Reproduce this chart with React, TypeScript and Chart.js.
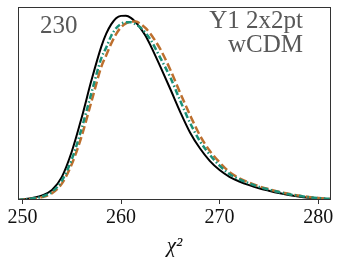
import React, { useEffect, useRef } from "react";
import { Chart, registerables } from "chart.js";

Chart.register(...registerables);

const chi2Grid = [
  249.5, 250, 250.5, 251, 252, 253, 254, 255, 256, 257, 258,
  258.5, 259, 259.5, 260, 260.5, 261, 261.5, 262, 262.5, 263,
  264, 265, 266, 267, 268, 269, 270, 271, 272, 273, 274, 275, 276, 277, 278, 279, 280, 281,
  281.5,
];

const blackSolid = [
  0.001, 0.003, 0.006, 0.011, 0.024, 0.052, 0.12, 0.25, 0.425, 0.62, 0.795,
  0.862, 0.91, 0.942, 0.954, 0.955, 0.944, 0.92, 0.888, 0.85, 0.8,
  0.69, 0.575, 0.457, 0.35, 0.268, 0.203, 0.155, 0.12, 0.096, 0.077, 0.061, 0.048, 0.036, 0.026, 0.018, 0.012, 0.008, 0.005,
  0.004,
];

const orangeDashed = [
  0.0, 0.001, 0.003, 0.006, 0.015, 0.035, 0.085, 0.185, 0.33, 0.51, 0.69,
  0.75, 0.81, 0.86, 0.895, 0.915, 0.925, 0.925, 0.912, 0.89, 0.86,
  0.78, 0.675, 0.555, 0.44, 0.335, 0.255, 0.195, 0.145, 0.113, 0.09, 0.071, 0.056, 0.043, 0.032, 0.023, 0.016, 0.011, 0.007,
  0.006,
];

const tealDashDot = [
  0.0, 0.002, 0.004, 0.008, 0.018, 0.042, 0.1, 0.21, 0.37, 0.555, 0.735,
  0.79, 0.85, 0.89, 0.912, 0.921, 0.921, 0.91, 0.893, 0.865, 0.83,
  0.735, 0.635, 0.515, 0.4, 0.305, 0.235, 0.178, 0.135, 0.107, 0.086, 0.068, 0.054, 0.041, 0.03, 0.022, 0.015, 0.01, 0.006,
  0.005,
];

const xTicks = [250, 260, 270, 280];
const labelLeft = "230";
const labelRight = ["Y1 2x2pt", "wCDM"];
const xTitle = "χ²";

const SERIF = '"Liberation Serif", "Times New Roman", serif';

function pts(ys: number[]) {
  return chi2Grid.map((x, i) => ({ x, y: ys[i] }));
}

const framePlugin = {
  id: "frameAndText",
  afterDraw(chart: any) {
    const { ctx, chartArea } = chart;
    ctx.save();
    ctx.strokeStyle = "#333333";
    ctx.lineWidth = 1;
    ctx.strokeRect(
      Math.round(chartArea.left) + 0.5,
      Math.round(chartArea.top) + 0.5,
      Math.round(chartArea.right - chartArea.left) - 1,
      Math.round(chartArea.bottom - chartArea.top) - 1
    );
    ctx.fillStyle = "#585858";
    ctx.textBaseline = "alphabetic";
    ctx.textAlign = "left";
    ctx.font = `25px ${SERIF}`;
    ctx.fillText(labelLeft, 40, 32.5);
    ctx.textAlign = "right";
    ctx.font = `25px ${SERIF}`;
    ctx.fillText(labelRight[0], 303, 28);
    ctx.fillText(labelRight[1], 303, 52);
    ctx.restore();
  },
};

export default function App() {
  const canvasRef = useRef<HTMLCanvasElement | null>(null);

  useEffect(() => {
    if (!canvasRef.current) return;
    const chart = new Chart(canvasRef.current, {
      type: "line",
      data: {
        datasets: [
          {
            data: pts(tealDashDot),
            borderColor: "#1b9078",
            borderWidth: 2.5,
            borderDash: [6, 2.5, 1.5, 2.5],
            pointRadius: 0,
            cubicInterpolationMode: "monotone",
            fill: false,
          },
          {
            data: pts(orangeDashed),
            borderColor: "#bd6f2e",
            borderWidth: 2.5,
            borderDash: [8, 3.5],
            pointRadius: 0,
            cubicInterpolationMode: "monotone",
            fill: false,
          },
          {
            data: pts(blackSolid),
            borderColor: "#000000",
            borderWidth: 2,
            pointRadius: 0,
            cubicInterpolationMode: "monotone",
            fill: false,
          },
        ],
      },
      options: {
        animation: false,
        responsive: true,
        maintainAspectRatio: false,
        layout: { padding: { left: 18, right: 10, top: 7, bottom: 0 } },
        plugins: {
          legend: { display: false },
          tooltip: { enabled: false },
        },
        scales: {
          x: {
            type: "linear",
            min: 249.55,
            max: 281.3,
            afterBuildTicks: (scale: any) => {
              scale.ticks = xTicks.map((v) => ({ value: v }));
            },
            afterFit: (scale: any) => {
              scale.height = 63;
            },
            grid: {
              display: true,
              drawOnChartArea: false,
              drawTicks: true,
              tickLength: 4,
              color: "#333333",
            },
            border: { display: false },
            ticks: {
              color: "#111111",
              font: { family: SERIF, size: 20 },
              padding: 2,
              maxRotation: 0,
              autoSkip: false,
            },
            title: {
              display: true,
              text: xTitle,
              color: "#111111",
              font: { family: SERIF, size: 21, style: "italic" },
              padding: { top: 0, bottom: 4 },
            },
          },
          y: {
            display: false,
            min: 0,
            max: 1,
          },
        },
      },
      plugins: [framePlugin],
    });
    return () => chart.destroy();
  }, []);

  return (
    <div style={{ position: "fixed", left: 0, top: 0, width: 341, height: 263, background: "#fff" }}>
      <canvas ref={canvasRef} />
    </div>
  );
}
